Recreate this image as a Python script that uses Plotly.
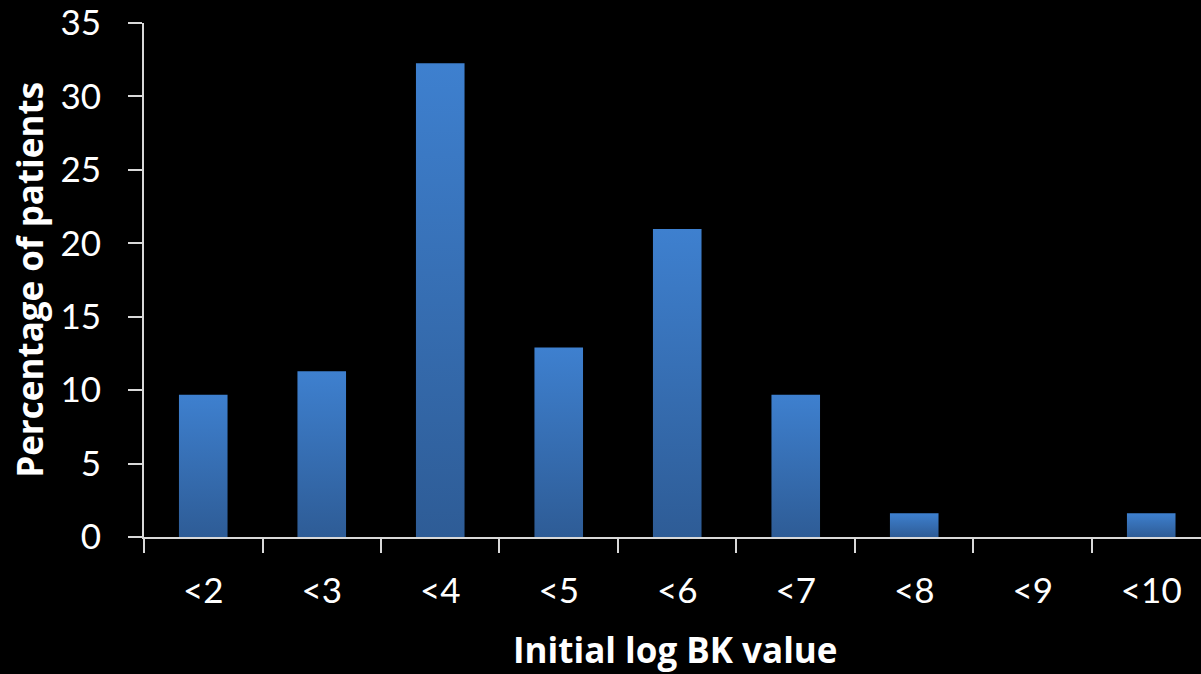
import plotly.graph_objects as go

# Distribution of initial log BK values (percentage of patients per bin)
categories = ["<2", "<3", "<4", "<5", "<6", "<7", "<8", "<9", "<10"]
percentages = [9.68, 11.29, 32.26, 12.90, 20.97, 9.68, 1.61, 0.0, 1.61]
y_ticks = [0, 5, 10, 15, 20, 25, 30, 35]

BAR_WIDTH = 0.41
TOP_COLOR = "#3E80CF"
BOTTOM_COLOR = "#2E5C96"
AXIS_COLOR = "#D9D9D9"
FONT = "Lato"
TITLE_FONT = "Open Sans"

fig = go.Figure()

# Each bar is a filled rectangle so it can carry a vertical gradient
for i, (cat, val) in enumerate(zip(categories, percentages)):
    if val <= 0:
        continue
    x0, x1 = i - BAR_WIDTH / 2, i + BAR_WIDTH / 2
    fig.add_trace(go.Scatter(
        x=[x0, x1, x1, x0, x0],
        y=[0, 0, val, val, 0],
        mode="lines",
        line=dict(width=0),
        fill="toself",
        fillgradient=dict(
            type="vertical",
            colorscale=[[0, BOTTOM_COLOR], [1, TOP_COLOR]],
        ),
        name=cat,
        hoverinfo="skip",
        showlegend=False,
    ))

fig.update_layout(
    width=1201,
    height=674,
    margin=dict(l=144, r=0, t=23, b=137),
    paper_bgcolor="black",
    plot_bgcolor="black",
    font=dict(family=FONT, color="white"),
    showlegend=False,
)

fig.update_xaxes(
    range=[-0.5, 8.42],
    tickmode="array",
    tickvals=list(range(len(categories))),
    ticktext=categories,
    ticks="",
    tickfont=dict(size=35, family=FONT, color="white"),
    ticklabelstandoff=22,
    showgrid=False,
    zeroline=False,
    showline=True,
    linecolor=AXIS_COLOR,
    linewidth=2,
    minor=dict(
        tickmode="linear",
        tick0=-0.5,
        dtick=1,
        ticks="outside",
        ticklen=14,
        tickwidth=2,
        tickcolor=AXIS_COLOR,
        showgrid=False,
    ),
)

fig.update_yaxes(
    range=[0, 35],
    tickmode="array",
    tickvals=y_ticks,
    ticks="outside",
    ticklen=14,
    tickwidth=2,
    tickcolor=AXIS_COLOR,
    tickfont=dict(size=35, family=FONT, color="white"),
    ticklabelstandoff=20,
    showgrid=False,
    zeroline=False,
    showline=True,
    linecolor=AXIS_COLOR,
    linewidth=2,
)

fig.add_annotation(
    text="<b>Percentage of patients</b>",
    xref="paper", yref="paper",
    x=-0.109, y=0.5,
    xanchor="center", yanchor="middle",
    textangle=-90,
    showarrow=False,
    font=dict(size=35, family=TITLE_FONT, color="white"),
)
fig.add_annotation(
    text="<b>Initial log BK value</b>",
    xref="paper", yref="paper",
    x=0.503, y=-0.2198,
    xanchor="center", yanchor="middle",
    showarrow=False,
    font=dict(size=35, family=TITLE_FONT, color="white"),
)

fig.write_html("out.html")
